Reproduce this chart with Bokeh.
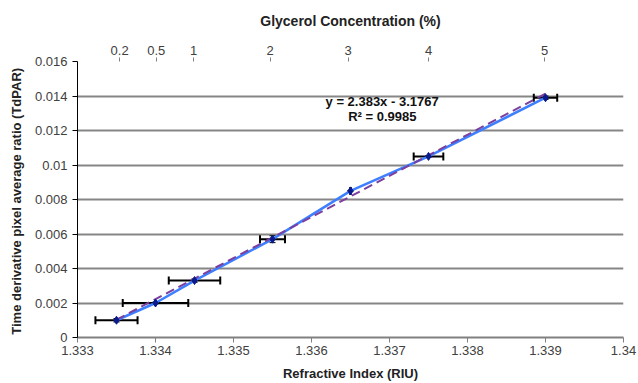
from bokeh.plotting import figure
from bokeh.models import ColumnDataSource, FixedTicker, LinearAxis, Range1d, Whisker, Label
from bokeh.embed import file_html
from bokeh.resources import INLINE

riu = [1.3335, 1.3340, 1.3345, 1.3355, 1.3365, 1.3375, 1.3390]
tdpar = [0.0010, 0.0020, 0.0033, 0.0057, 0.0085, 0.0105, 0.0139]
x_err = [0.00027, 0.00042, 0.00033, 0.00016, 0.0, 0.00019, 0.00015]
y_err = [0.0001, 0.00005, 0.0001, 0.0002, 0.0, 0.00005, 0.0001]

conc_ticks = [0.2, 0.5, 1, 2, 3, 4, 5]
conc_riu = [1.33354, 1.33401, 1.33449, 1.33547, 1.33647, 1.3375, 1.33899]

x_ticks = [1.333, 1.334, 1.335, 1.336, 1.337, 1.338, 1.339, 1.34]
y_ticks = [0, 0.002, 0.004, 0.006, 0.008, 0.010, 0.012, 0.014, 0.016]

slope, intercept = 2.383, -3.1767
fit_x = [riu[0], riu[-1]]
fit_y = [slope * v + intercept for v in fit_x]

FONT = "Liberation Sans"
TICKC = "#404040"

p = figure(width=638, height=383, output_backend="svg", toolbar_location=None,
           x_range=Range1d(1.333, 1.34), y_range=Range1d(0, 0.016),
           min_border_left=77, min_border_right=15, min_border_top=61, min_border_bottom=46)
p.outline_line_color = None
p.background_fill_color = "white"
p.border_fill_color = "white"

p.xaxis.ticker = FixedTicker(ticks=x_ticks)
p.xaxis.major_label_overrides = {v: ("1.34" if v == 1.34 else f"{v:.3f}") for v in x_ticks}
p.xaxis.axis_label = "Refractive Index (RIU)"
p.yaxis.ticker = FixedTicker(ticks=y_ticks)
p.yaxis.major_label_overrides = {v: ("0" if v == 0 else ("0.01" if abs(v - 0.01) < 1e-9 else f"{v:.3f}")) for v in y_ticks}
p.yaxis.axis_label = "Time derivative pixel average ratio  (TdPAR)"

for ax in (p.xaxis[0], p.yaxis[0]):
    ax.axis_label_text_font = FONT
    ax.axis_label_text_font_style = "bold"
    ax.axis_label_text_font_size = "13px"
    ax.axis_label_text_color = "#222222"
    ax.major_label_text_font = FONT
    ax.major_label_text_font_size = "13px"
    ax.major_label_text_color = TICKC
    ax.minor_tick_line_color = None
    ax.major_tick_in = 0
    ax.major_tick_out = 5

p.xaxis.axis_line_color = "#808080"
p.xaxis.major_tick_line_color = "#808080"
p.xaxis.axis_line_width = 2
p.xaxis.major_label_standoff = 3
p.xaxis.axis_label_standoff = 8
p.yaxis.axis_line_color = "black"
p.yaxis.major_tick_line_color = "black"
p.yaxis.major_label_standoff = 5
p.yaxis.axis_label_standoff = 8

top = LinearAxis(ticker=FixedTicker(ticks=conc_riu),
                 major_label_overrides={r: str(c) for r, c in zip(conc_riu, conc_ticks)},
                 axis_label="Glycerol Concentration (%)")
top.axis_label_text_font = FONT
top.axis_label_text_font_style = "bold"
top.axis_label_text_font_size = "14px"
top.axis_label_text_color = "#222222"
top.major_label_text_font = FONT
top.major_label_text_font_size = "13px"
top.major_label_text_color = TICKC
top.minor_tick_line_color = None
top.axis_line_color = None
top.major_tick_line_color = "#808080"
top.major_tick_in = 0
top.major_tick_out = 4
top.major_label_standoff = 3
top.axis_label_standoff = 14
p.add_layout(top, "above")

p.xgrid.grid_line_color = None
p.ygrid.grid_line_color = "#868686"
p.ygrid.grid_line_width = 2

src = ColumnDataSource(dict(
    x=riu, y=tdpar,
    xl=[a - b for a, b in zip(riu, x_err)], xu=[a + b for a, b in zip(riu, x_err)],
    yl=[a - b for a, b in zip(tdpar, y_err)], yu=[a + b for a, b in zip(tdpar, y_err)],
))

p.line("x", "y", source=src, line_color="#3d7fff", line_width=2.5)
p.line(fit_x, fit_y, line_color="#7b3f9e", line_width=2, line_dash="9 5")

wx = Whisker(source=src, base="y", lower="xl", upper="xu", dimension="width",
             line_color="black", line_width=2)
wx.lower_head.size = 8
wx.upper_head.size = 8
wx.lower_head.line_width = 2
wx.upper_head.line_width = 2
p.add_layout(wx)
wy = Whisker(source=src, base="x", lower="yl", upper="yu", dimension="height",
             line_color="#0a1a6e", line_width=1.5)
wy.lower_head.size = 6
wy.upper_head.size = 6
p.add_layout(wy)

p.scatter("x", "y", source=src, marker="diamond", size=8, fill_color="#0a1a8c", line_color="#0a1a8c")

p.add_layout(Label(x=1.33618, y=0.0137, text="y = 2.383x - 3.1767", text_font=FONT,
                   text_font_style="bold", text_font_size="13px", text_color="#111111",
                   text_align="left", text_baseline="middle"))
p.add_layout(Label(x=1.33647, y=0.0128, text="R² = 0.9985", text_font=FONT,
                   text_font_style="bold", text_font_size="13px", text_color="#111111",
                   text_align="left", text_baseline="middle"))

open("out.html", "w").write(file_html(p, INLINE))
